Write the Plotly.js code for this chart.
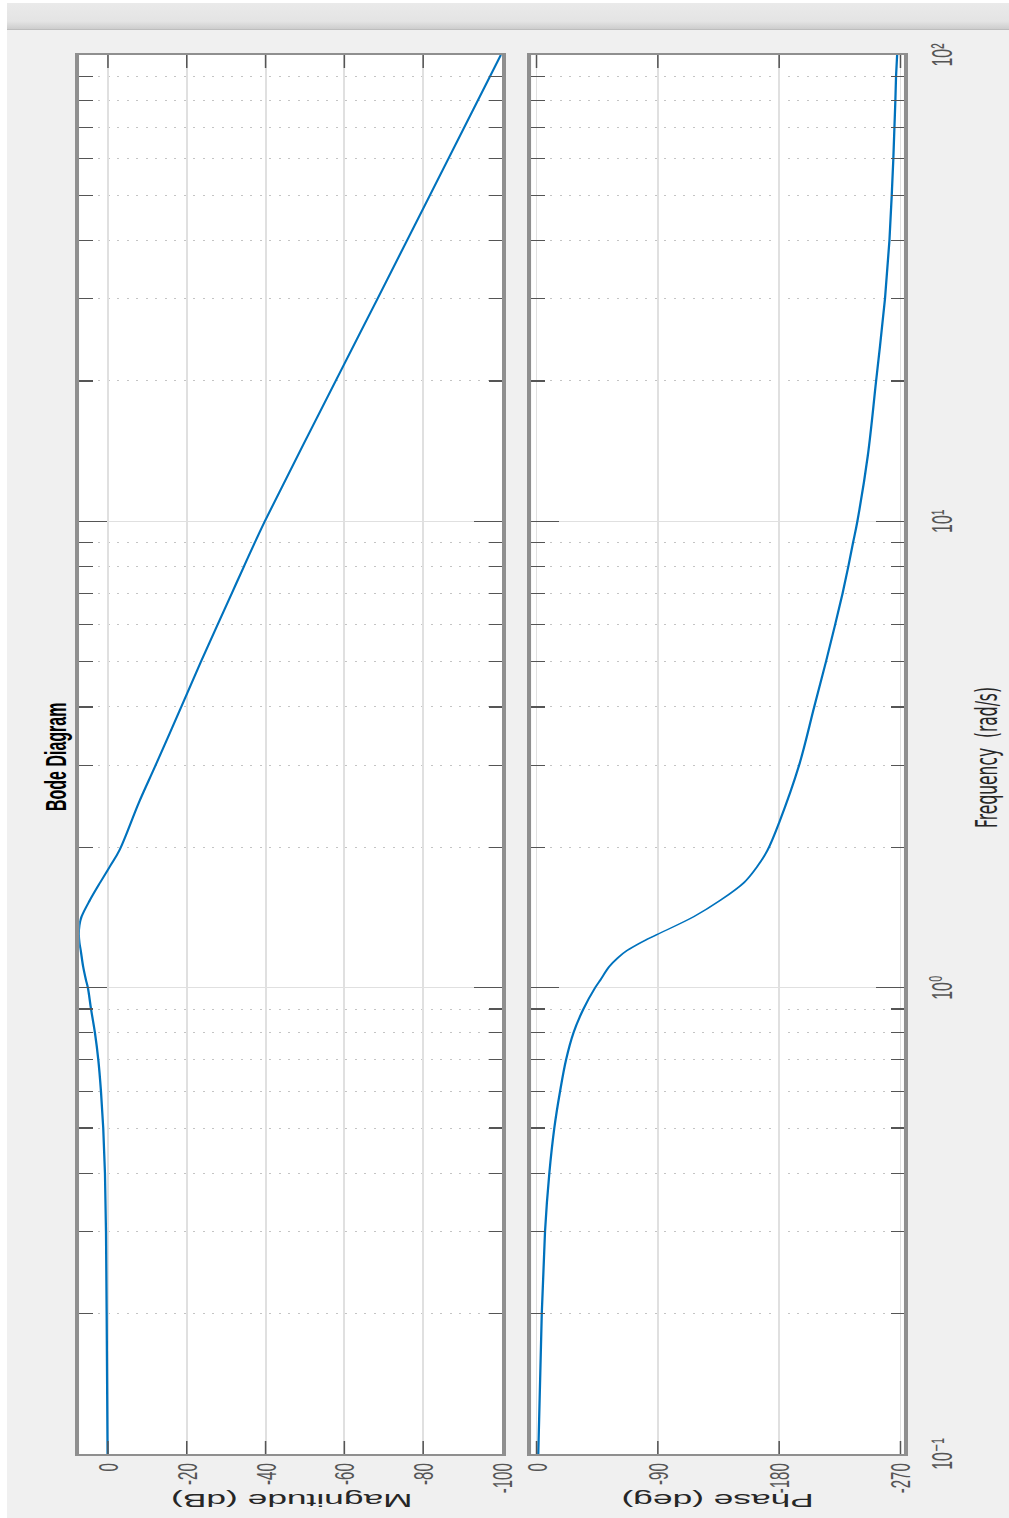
<!DOCTYPE html>
<html><head><meta charset="utf-8">
<script src="https://cdn.plot.ly/plotly-3.0.1.min.js"></script>
<style>
html,body{margin:0;padding:0;width:1009px;height:1518px;overflow:hidden;background:#ffffff;}
#bar{position:absolute;left:7px;top:3px;width:1002px;height:26px;background:linear-gradient(#eaeaea 0%,#e4e4e4 70%,#cdcdcd 100%);border-bottom:1px solid #bdbdbd;}
#frame{position:absolute;left:7px;top:30px;width:1002px;height:1488px;background:#f0f0f0;}
#plot{position:absolute;left:0;top:0;width:1488px;height:527px;transform-origin:0 0;transform:translate(7px,1518px) rotate(-90deg) scale(1,1.9);}
</style></head><body>
<div id="bar"></div><div id="frame"></div><div id="plot"></div>
<script>
// Magnitude readings (rad/s, dB)
const magFreq = [0.1,0.2,0.3,0.4,0.5,0.6,0.7,0.8,0.9,1.0,1.04,1.11,1.2,1.25,1.3,1.36,1.42,1.54,1.68,1.82,1.97,2.5,3,4,5,6,7,8,10,20,30,50,100];
const magDb   = [0.1,0.33,0.5,0.76,1.2,1.78,2.45,3.3,4.3,5.1,5.6,6.3,6.9,7.25,7.4,7.25,6.7,4.6,2.0,-0.5,-2.9,-7.9,-12.1,-18.6,-23.6,-27.8,-31.4,-34.5,-39.8,-57.8,-68.4,-81.7,-99.7];
// Phase readings (rad/s, deg)
const phaseFreq = [0.1,0.2,0.3,0.4,0.5,0.6,0.7,0.8,0.9,1.0,1.04,1.11,1.16,1.2,1.25,1.3,1.42,1.54,1.68,1.82,1.97,2.26,3,4,5,6,7,8,9,10,13.8,20,30,40,50,60,70,80,90,100];
const phaseDeg  = [-1.3,-3.9,-6.3,-9.5,-13.2,-17.5,-21.9,-27.4,-34.8,-43.5,-47.5,-54,-60.5,-67,-77.5,-89.4,-116.7,-136.5,-153.9,-163.8,-171.3,-180,-194.8,-206,-214.7,-221.5,-227,-231.3,-234.8,-238,-245.7,-251.9,-258.5,-261.8,-263.5,-264.7,-265.5,-266.2,-266.7,-267.5];
// Tick labels
const freqTicks = [0.1,1,10,100];
const freqTickText = ['10\u207B\u00B9','10\u2070','10\u00B9','10\u00B2'];
const magTicks = [0,-20,-40,-60,-80,-100];
const magTickText = ['0','-20','-40','-60','-80','-100'];
const phaseTicks = [0,-90,-180,-270];
const phaseTickText = ['0','-90','-180','-270'];

const minorVals = [];
for (let d = -1; d < 2; d++) for (let k = 2; k < 10; k++) minorVals.push(k * Math.pow(10, d));

const lineCol = '#8f8f8f', tickCol = '#555555', gridCol = '#e0e0e0';
const tickFont = {family:'Liberation Sans, DejaVu Sans, Arial, sans-serif', size:15, color:'#555555'};

function xAx(extra){
  return Object.assign({
    type:'log', range:[-1,2], domain:[0,1],
    tickvals:freqTicks, ticktext:freqTickText,
    ticks:'inside', ticklen:14.7, tickwidth:1.2, tickcolor:tickCol,
    showline:true, linecolor:lineCol, linewidth:2.2, mirror:'allticks',
    showgrid:true, gridcolor:gridCol, gridwidth:1.6, zeroline:false,
    tickfont:{family:'Liberation Sans, DejaVu Sans, Arial, sans-serif', size:16, color:'#555555'}, ticklabelstandoff:4,
    minor:{tickvals:minorVals, ticks:'inside', ticklen:7, tickwidth:1.2, tickcolor:tickCol,
           showgrid:true, gridcolor:'#c4c4c4', gridwidth:1, griddash:'1px,4px'}
  }, extra);
}
function yAx(extra){
  return Object.assign({
    ticks:'inside', ticklen:13, tickwidth:0.8, tickcolor:tickCol,
    showline:true, linecolor:lineCol, linewidth:2.2, mirror:'allticks',
    showgrid:true, gridcolor:gridCol, gridwidth:1, zeroline:false,
    tickfont:tickFont, ticklabelstandoff:4
  }, extra);
}

const traces = [
  {x:magFreq, y:magDb, xaxis:'x2', yaxis:'y', mode:'lines', line:{color:'#0072bd', width:1.2, shape:'spline'}},
  {x:phaseFreq, y:phaseDeg, xaxis:'x', yaxis:'y2', mode:'lines', line:{color:'#0072bd', width:1.2, shape:'spline'}}
];

const layout = {
  width:1488, height:527, autosize:false,
  margin:{l:64, r:25, t:38, b:55, pad:0},
  paper_bgcolor:'#f0f0f0', plot_bgcolor:'#ffffff',
  showlegend:false, hovermode:false,
  xaxis: xAx({anchor:'y2'}),
  xaxis2: xAx({anchor:'y', matches:'x', showticklabels:false}),
  yaxis: yAx({domain:[0.4873,1], anchor:'x2', range:[-100,7.3], tickvals:magTicks, ticktext:magTickText}),
  yaxis2: yAx({domain:[0,0.4515], anchor:'x', range:[-272.45,3.73], tickvals:phaseTicks, ticktext:phaseTickText}),
  annotations:[
    {text:'<b>Bode Diagram</b>', xref:'paper', yref:'paper', x:0.4982, y:1.0293, showarrow:false,
     xanchor:'center', yanchor:'middle', font:{family:'Liberation Sans, Arial, sans-serif', size:16, color:'#000000'}},
    {text:'Frequency  (rad/s)', xref:'paper', yref:'paper', x:0.4982, y:-0.1009, showarrow:false,
     xanchor:'center', yanchor:'middle', font:{family:'DejaVu Sans, sans-serif', size:15.5, color:'#262626'}},
    {text:'Magnitude (dB)', xref:'paper', yref:'paper', x:-0.0329, y:0.7431, showarrow:false, textangle:-90,
     xanchor:'center', yanchor:'middle', font:{family:'Liberation Sans, Arial, sans-serif', size:18.6, color:'#262626'}},
    {text:'Phase (deg)', xref:'paper', yref:'paper', x:-0.0329, y:0.2265, showarrow:false, textangle:-90,
     xanchor:'center', yanchor:'middle', font:{family:'Liberation Sans, Arial, sans-serif', size:18.6, color:'#262626'}}
  ]
};

Plotly.newPlot('plot', traces, layout, {staticPlot:true, displayModeBar:false});
</script></body></html>
